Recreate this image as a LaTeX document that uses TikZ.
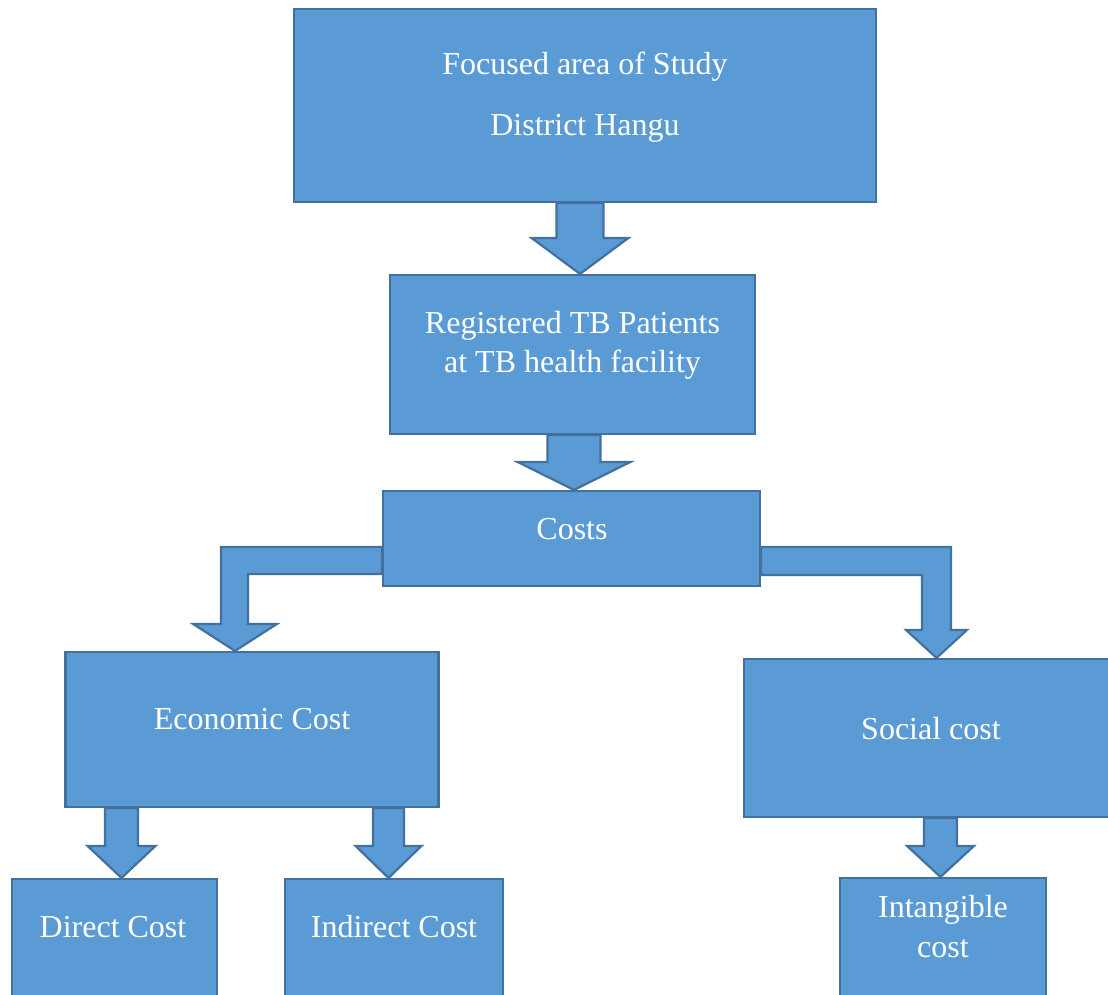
\documentclass[tikz,border=0pt]{standalone}
\usepackage{fontspec}
\setmainfont{Liberation Serif}
\usetikzlibrary{calc}

\definecolor{boxblue}{HTML}{5B9BD5}
\definecolor{edgeblue}{HTML}{41719C}

% straight block arrow: axis x, from, to, half shaft, half head, head length
\newcommand{\blockdown}[6]{%
  \draw[blockarrow] let \p1 = (#2), \p2 = (#3) in
    (#1pt-#4pt,\y1) -- (#1pt-#4pt,\y2+#6pt) -- (#1pt-#5pt,\y2+#6pt) -- (#1pt,\y2)
    -- (#1pt+#5pt,\y2+#6pt) -- (#1pt+#4pt,\y2+#6pt) -- (#1pt+#4pt,\y1) -- cycle;}

\begin{document}
\begin{tikzpicture}[x=1pt, y=-1pt,
    box/.style={draw=edgeblue, fill=boxblue, line width=2.2pt, inner sep=0pt},
    blockarrow/.style={draw=edgeblue, fill=boxblue, line width=2.2pt, line join=miter},
    txt/.style={text=white, font=\fontsize{32}{38}\selectfont, inner sep=0pt, align=center}]
    \clip (0,0) rectangle (1108,994);
    \fill[white] (0,0) rectangle (1108,994);

    \node[box, minimum width=582, minimum height=193] (study) at (585,105.5) {};
    \node[box, minimum width=365, minimum height=159] (reg) at (572.5,354.5) {};
    \node[box, minimum width=377, minimum height=95] (costs) at (571.5,538.5) {};
    \node[box, minimum width=373, minimum height=155] (econ) at (252,729.5) {};
    \node[box, minimum width=368, minimum height=158] (social) at (928,738) {};
    \node[box, minimum width=205, minimum height=140] (direct) at (114.5,949) {};
    \node[box, minimum width=218, minimum height=140] (indirect) at (394,949) {};
    \node[box, minimum width=206, minimum height=140] (intang) at (943,948) {};

    \node[txt] (study-text) at (585,97) {Focused area of Study\\[23pt]District Hangu};
    \node[txt, font=\fontsize{32}{39}\selectfont] (reg-text) at (572.5,345) {Registered TB Patients\\at TB health facility};
    \node[txt, anchor=base] (costs-text) at (572,539) {Costs};
    \node[txt, anchor=base] (econ-text) at (252,729) {Economic Cost};
    \node[txt, anchor=base] (social-text) at (931,739) {Social cost};
    \node[txt, anchor=base] (direct-text) at (113,937) {Direct Cost};
    \node[txt, anchor=base] (indirect-text) at (394,937) {Indirect Cost};
    \node[txt, font=\fontsize{32}{40}\selectfont] (intang-text) at (943,927) {Intangible\\cost};

    \blockdown{580}{study.south}{reg.north}{23.5}{48.5}{36}
    \blockdown{574}{reg.south}{costs.north}{26.5}{56.5}{28}
    \blockdown{121.5}{econ.south}{direct.north}{16.5}{34}{32}
    \blockdown{388.5}{econ.south}{indirect.north}{15.5}{33}{32}
    \blockdown{940.5}{social.south}{intang.north}{16.5}{33.5}{31}

    % bent arrows out of the sides of costs
    \draw[blockarrow] let \p1 = (costs.west), \p2 = (econ.north) in
        (\x1,\y1-8.5pt) -- (221pt,\y1-8.5pt) -- (221pt,\y2+27pt) -- (193pt,\y2+27pt) -- (235pt,\y2)
        -- (277pt,\y2+27pt) -- (248pt,\y2+27pt) -- (248pt,\y1-35.5pt) -- (\x1,\y1-35.5pt) -- cycle;
    \draw[blockarrow] let \p1 = (costs.east), \p2 = (social.north) in
        (\x1,\y1-8.5pt) -- (951pt,\y1-8.5pt) -- (951pt,\y2+28pt) -- (967pt,\y2+28pt) -- (936.5pt,\y2)
        -- (906pt,\y2+28pt) -- (922pt,\y2+28pt) -- (922pt,\y1-36.5pt) -- (\x1,\y1-36.5pt) -- cycle;
\end{tikzpicture}
\end{document}
